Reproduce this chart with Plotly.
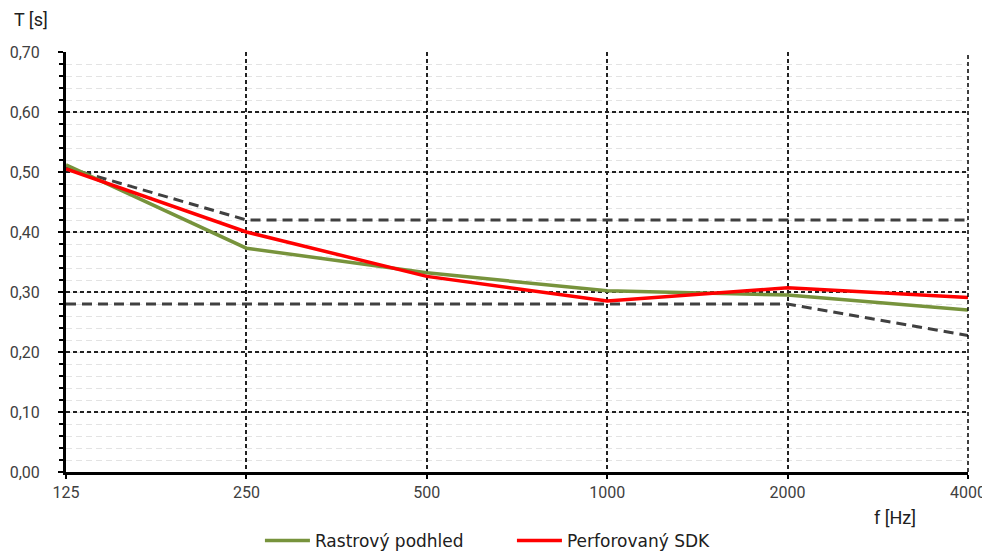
import plotly.graph_objects as go

freqs = ["125", "250", "500", "1000", "2000", "4000"]
rastrovy = [0.512, 0.373, 0.332, 0.302, 0.295, 0.270]
perforovany = [0.505, 0.400, 0.326, 0.285, 0.307, 0.291]
upper_limit = [0.5075, 0.42, 0.42, 0.42, 0.42, 0.42]
lower_limit = [0.28, 0.28, 0.28, 0.28, 0.28, 0.2275]
y_ticks = [0.0, 0.1, 0.2, 0.3, 0.4, 0.5, 0.6, 0.7]

xpos = list(range(len(freqs)))
font = "Roboto, Arial, sans-serif"
fig = go.Figure()

fig.add_trace(go.Scatter(x=xpos, y=upper_limit, mode="lines", showlegend=False,
                         line=dict(color="#404040", width=3, dash="10px,6px"), hoverinfo="skip"))
fig.add_trace(go.Scatter(x=xpos, y=lower_limit, mode="lines", showlegend=False,
                         line=dict(color="#404040", width=3, dash="10px,6px"), hoverinfo="skip"))
fig.add_trace(go.Scatter(x=xpos, y=rastrovy, mode="lines", name="Rastrový podhled",
                         line=dict(color="#77933C", width=3.5)))
fig.add_trace(go.Scatter(x=xpos, y=perforovany, mode="lines", name="Perforovaný SDK",
                         line=dict(color="#FF0000", width=3.5)))

# page body has an 8px margin, so the figure is 8px smaller and margins shifted
fig.update_layout(
    width=982, height=544,
    margin=dict(l=58, r=22, t=44, b=80, autoexpand=False),
    paper_bgcolor="white", plot_bgcolor="white",
    separators=", ",
    font=dict(family=font, size=16, color="#404040"),
    legend=dict(orientation="h", x=0.215, xanchor="left", y=-0.1643, yanchor="middle",
                font=dict(family="DejaVu Sans, sans-serif", size=17, color="#202020"),
                itemwidth=45, entrywidth=192, entrywidthmode="pixels", tracegroupgap=0),
    xaxis=dict(range=[0, 5], tickvals=xpos, ticktext=freqs, automargin=False,
               ticklabeloverflow="allow",
               showgrid=True, gridcolor="#222222", griddash="4px,3px", gridwidth=1.5,
               showline=True, linecolor="black", linewidth=3, mirror=False,
               ticks="outside", ticklen=4, tickcolor="black", tickwidth=2,
               zeroline=False, tickfont=dict(size=16, color="#404040")),
    yaxis=dict(range=[0, 0.7], tickvals=y_ticks, tickformat=".2f", automargin=False,
               showgrid=True, gridcolor="#222222", griddash="4px,3px", gridwidth=1.5,
               showline=True, linecolor="black", linewidth=3,
               ticks="outside", ticklen=5, tickcolor="black", tickwidth=2,
               ticklabelstandoff=15,
               zeroline=False, tickfont=dict(size=16, color="#404040")),
)
fig.update_yaxes(minor=dict(dtick=0.02, showgrid=True, gridcolor="#e3e3e3", griddash="6px,4px",
                            gridwidth=1, ticks="outside", ticklen=4, tickcolor="black", tickwidth=2))
fig.add_annotation(text="T [s]", xref="paper", yref="paper", x=-0.0599, y=1.078,
                   xanchor="left", yanchor="middle", showarrow=False,
                   font=dict(size=18, color="#202020"))
fig.add_annotation(text="f [Hz]", xref="paper", yref="paper", x=0.919, y=-0.1095,
                   xanchor="center", yanchor="middle", showarrow=False,
                   font=dict(size=18, color="#202020"))
fig.add_shape(type="line", xref="paper", yref="paper", x0=1, x1=1, y0=0, y1=1,
              line=dict(color="black", width=1.5, dash="4px,3px"))

fig.write_html("out.html")
